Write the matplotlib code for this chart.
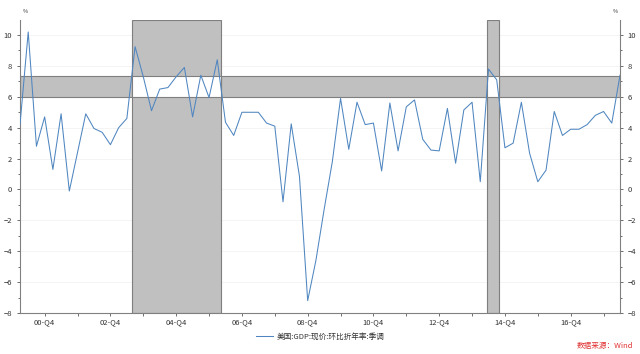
import matplotlib
matplotlib.use('Agg')
import matplotlib.pyplot as plt
from matplotlib.patches import Rectangle
import numpy as np

plt.rcParams['font.family'] = ['Noto Sans CJK SC', 'DejaVu Sans']

# 美国:GDP:现价:环比折年率:季调, 2000-Q1 .. 2018-Q2
gdp = [4.2, 10.2, 2.8, 4.7, 1.3, 4.9, -0.1, 2.4,
       4.9, 3.95, 3.7, 2.9, 4.0, 4.6, 9.25, 7.3,
       5.1, 6.5, 6.6, 7.3, 7.9, 4.7, 7.4, 5.95,
       8.4, 4.35, 3.5, 5.0, 5.0, 5.0, 4.3, 4.1,
       -0.8, 4.25, 0.85, -7.2, -4.6, -1.3, 1.8, 5.9,
       2.6, 5.65, 4.2, 4.3, 1.2, 5.6, 2.5, 5.35,
       5.8, 3.25, 2.55, 2.5, 5.25, 1.7, 5.15, 5.65,
       0.5, 7.8, 7.1, 2.7, 3.0, 5.65, 2.35, 0.5,
       1.25, 5.05, 3.5, 3.9, 3.9, 4.2, 4.8, 5.05,
       4.3, 7.4]
start_year = 2000
band = (6.0, 7.36)
spans = [(13.63, 24.4), (56.8, 58.3)]

x = np.arange(len(gdp))
labels = ['%02d-Q%d' % ((start_year + i // 4) % 100, i % 4 + 1) for i in x]

fig = plt.figure(figsize=(6.4, 3.54), dpi=100)
ax = fig.add_axes([0.03125, 0.1158, 0.9375, 0.8288])
ymin, ymax = -8, 11
gray = '#c0c0c0'
edge = '#7f7f7f'

for y in range(-8, 11, 2):
    ax.axhline(y, color='#f2f2f2', lw=0.6, zorder=0)

ax.add_patch(Rectangle((0, band[0]), len(gdp) - 1, band[1] - band[0],
                       facecolor=gray, edgecolor=edge, lw=0.8, zorder=1))
for a, b in spans:
    ax.add_patch(Rectangle((a, ymin), b - a, ymax - ymin,
                           facecolor=gray, edgecolor=edge, lw=0.8, zorder=1))
    ax.add_patch(Rectangle((a, band[0]), b - a, band[1] - band[0],
                           facecolor='white', edgecolor=edge, lw=0.8, zorder=1.5))

ax.plot(x, gdp, color='#4f86c0', lw=0.75, zorder=3, label='美国:GDP:现价:环比折年率:季调')

ax.set_xlim(0, len(gdp) - 1)
ax.set_ylim(ymin, ymax)

ax.set_yticks(range(-8, 11, 2))
ax.set_yticks(range(-8, 11), minor=True)
ax.tick_params(axis='y', which='both', direction='out', labelsize=5.5, colors='#333333',
               left=True, right=True, labelleft=True, labelright=True, length=2, width=0.5)
ax.tick_params(axis='y', which='minor', length=1.5)

q4 = [i for i in x if i % 4 == 3]
ax.set_xticks(q4)
ax.set_xticklabels([labels[i] if (i // 4) % 2 == 0 else '' for i in q4])
ax.tick_params(axis='x', direction='out', labelsize=5.5, colors='#333333', length=2, width=0.5, pad=2)

for s in ['left', 'right', 'bottom']:
    ax.spines[s].set_color('#808080')
    ax.spines[s].set_linewidth(0.8)
ax.spines['top'].set_visible(False)

ax.text(0.3, 11.35, '%', fontsize=4, color='#333333', ha='left', va='bottom')
ax.text(72.7, 11.35, '%', fontsize=4, color='#333333', ha='right', va='bottom')

ax.legend(loc='upper center', bbox_to_anchor=(0.5, -0.045), frameon=False, fontsize=5.5,
          handlelength=2.2, handletextpad=0.5, labelcolor='#333333')

fig.text(0.99, 0.01, '数据来源：Wind', color='#e03030', fontsize=5.5, style='italic',
         ha='right', va='bottom')

fig.savefig('out.png', dpi=100)
